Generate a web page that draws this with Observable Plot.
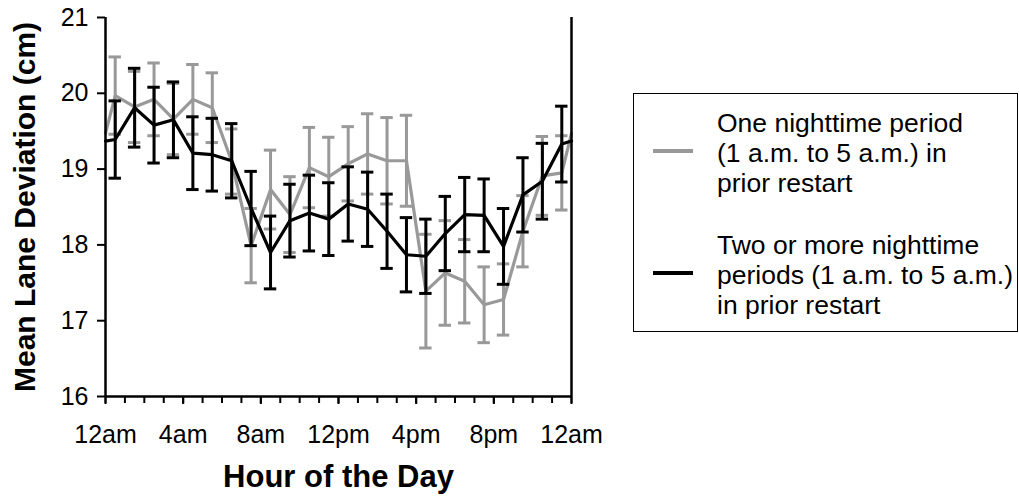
<!DOCTYPE html>
<html>
<head>
<meta charset="utf-8">
<script src="https://cdn.jsdelivr.net/npm/d3@7"></script>
<script src="https://cdn.jsdelivr.net/npm/@observablehq/plot@0.6"></script>
<style>
  html, body { margin: 0; padding: 0; background: #fff; }
  #wrap { position: relative; width: 1019px; height: 502px; font-family: "Liberation Sans", Arial, sans-serif; }
  #legend {
    position: absolute; left: 633px; top: 93px; width: 385px; height: 239px;
    box-sizing: border-box; border: 1.5px solid #000; background: #fff;
  }
  .item { position: absolute; left: 0; right: 0; }
  .swatch { position: absolute; left: 19px; width: 40px; height: 4px; }
  .label { position: absolute; left: 83px; font-size: 26.5px; line-height: 30px; color: #000; white-space: nowrap; }
</style>
</head>
<body>
<div id="wrap">
  <div id="chart"></div>
  <div id="legend"></div>
</div>
<script>
// Hour of the day at the middle of each one-hour bin
const hours = [0.5, 1.5, 2.5, 3.5, 4.5, 5.5, 6.5, 7.5, 8.5, 9.5, 10.5, 11.5,
               12.5, 13.5, 14.5, 15.5, 16.5, 17.5, 18.5, 19.5, 20.5, 21.5, 22.5, 23.5];

// One nighttime period (1 a.m. to 5 a.m.) in prior restart
const oneMean = [19.97, 19.82, 19.92, 19.66, 19.92, 19.81, 19.10, 17.99, 18.73, 18.40, 19.02, 18.90,
                 19.07, 19.20, 19.11, 19.11, 17.39, 17.63, 17.52, 17.21, 17.28, 18.18, 18.91, 18.95];
const oneErr  = [0.51, 0.47, 0.48, 0.47, 0.46, 0.46, 0.43, 0.49, 0.52, 0.50, 0.53, 0.52,
                 0.49, 0.53, 0.57, 0.60, 0.75, 0.69, 0.55, 0.50, 0.47, 0.47, 0.52, 0.49];
const oneMidnight = 19.47;

// Two or more nighttime periods (1 a.m. to 5 a.m.) in prior restart
const twoMean = [19.39, 19.81, 19.58, 19.65, 19.21, 19.19, 19.11, 18.48, 17.90, 18.32, 18.42, 18.34,
                 18.54, 18.47, 18.18, 17.87, 17.85, 18.15, 18.40, 18.39, 17.98, 18.66, 18.84, 19.33];
const twoErr  = [0.51, 0.52, 0.50, 0.50, 0.48, 0.48, 0.49, 0.49, 0.48, 0.48, 0.50, 0.48,
                 0.49, 0.49, 0.49, 0.49, 0.49, 0.49, 0.49, 0.48, 0.50, 0.49, 0.50, 0.50];
const twoMidnight = 19.37;

// Axis ticks
const yTicks = [16, 17, 18, 19, 20, 21];
const hourTicks = d3.range(0, 25);
const labelHours = [0, 4, 8, 12, 16, 20, 24];
const labelText = ["12am", "4am", "8am", "12pm", "4pm", "8pm", "12am"];

const seriesNames = [
  "One nighttime period\n(1 a.m. to 5 a.m.) in\nprior restart",
  "Two or more nighttime\nperiods (1 a.m. to 5 a.m.)\nin prior restart"
];
const seriesColors = ["#999999", "#000000"];

const points = (means, errs) => hours.map((h, i) => ({h, v: means[i], e: errs[i]}));
const path = (means, midnight) => [{h: 0, v: midnight}, ...hours.map((h, i) => ({h, v: means[i]})), {h: 24, v: midnight}];

const onePts = points(oneMean, oneErr);
const twoPts = points(twoMean, twoErr);

const cap = 0.32; // half-width of the error-bar caps, in hours

function seriesMarks(pts, line, color) {
  return [
    Plot.lineY(line, {x: "h", y: "v", stroke: color, strokeWidth: 3.2, strokeLinejoin: "miter"}),
    Plot.ruleX(pts, {x: "h", y1: d => d.v - d.e, y2: d => d.v + d.e, stroke: color, strokeWidth: 3}),
    Plot.ruleY(pts, {y: d => d.v + d.e, x1: d => d.h - cap, x2: d => d.h + cap, stroke: color, strokeWidth: 3}),
    Plot.ruleY(pts, {y: d => d.v - d.e, x1: d => d.h - cap, x2: d => d.h + cap, stroke: color, strokeWidth: 3})
  ];
}

const chart = Plot.plot({
  width: 1019,
  height: 502,
  marginLeft: 105,
  marginRight: 448,
  marginTop: 17,
  marginBottom: 106,
  style: {fontFamily: "'Liberation Sans', Arial, sans-serif", fontSize: "25px", color: "#000", background: "#fff"},
  x: {domain: [0, 24], label: null},
  y: {domain: [16, 21], label: null},
  marks: [
    ...seriesMarks(onePts, path(oneMean, oneMidnight), seriesColors[0]),
    ...seriesMarks(twoPts, path(twoMean, twoMidnight), seriesColors[1]),
    Plot.axisY(yTicks, {tickSize: 8, tickPadding: 9, strokeWidth: 2, fontSize: 25, label: null,
      tickFormat: d => String(d)}),
    Plot.axisX(hourTicks, {tickSize: 7, strokeWidth: 2, tickFormat: () => "", label: null}),
    Plot.axisX(labelHours, {tickSize: 8, tickPadding: 21, strokeWidth: 2, fontSize: 25, label: null,
      tickFormat: d => labelText[labelHours.indexOf(d)]}),
    Plot.ruleX([0, 24], {strokeWidth: 2.5}),
    Plot.ruleY([16], {strokeWidth: 2.5}),
    Plot.text(["Mean Lane Deviation (cm)"], {text: d => d, frameAnchor: "left", textAnchor: "middle",
      rotate: -90, dx: -80, fontWeight: "bold", fontSize: 30}),
    Plot.text(["Hour of the Day"], {text: d => d, frameAnchor: "bottom", dy: 90,
      fontWeight: "bold", fontSize: 31})
  ]
});
document.getElementById("chart").appendChild(chart);

// Legend: a boxed key to the right of the plot
const legend = document.getElementById("legend");
const itemTops = [14, 136];
seriesNames.forEach((name, i) => {
  const item = document.createElement("div");
  item.className = "item";
  item.style.top = itemTops[i] + "px";
  const sw = document.createElement("div");
  sw.className = "swatch";
  sw.style.background = seriesColors[i];
  sw.style.top = "41px";
  const lab = document.createElement("div");
  lab.className = "label";
  lab.style.top = "0px";
  lab.innerHTML = name.split("\n").join("<br>");
  item.appendChild(sw);
  item.appendChild(lab);
  legend.appendChild(item);
});
</script>
</body>
</html>
